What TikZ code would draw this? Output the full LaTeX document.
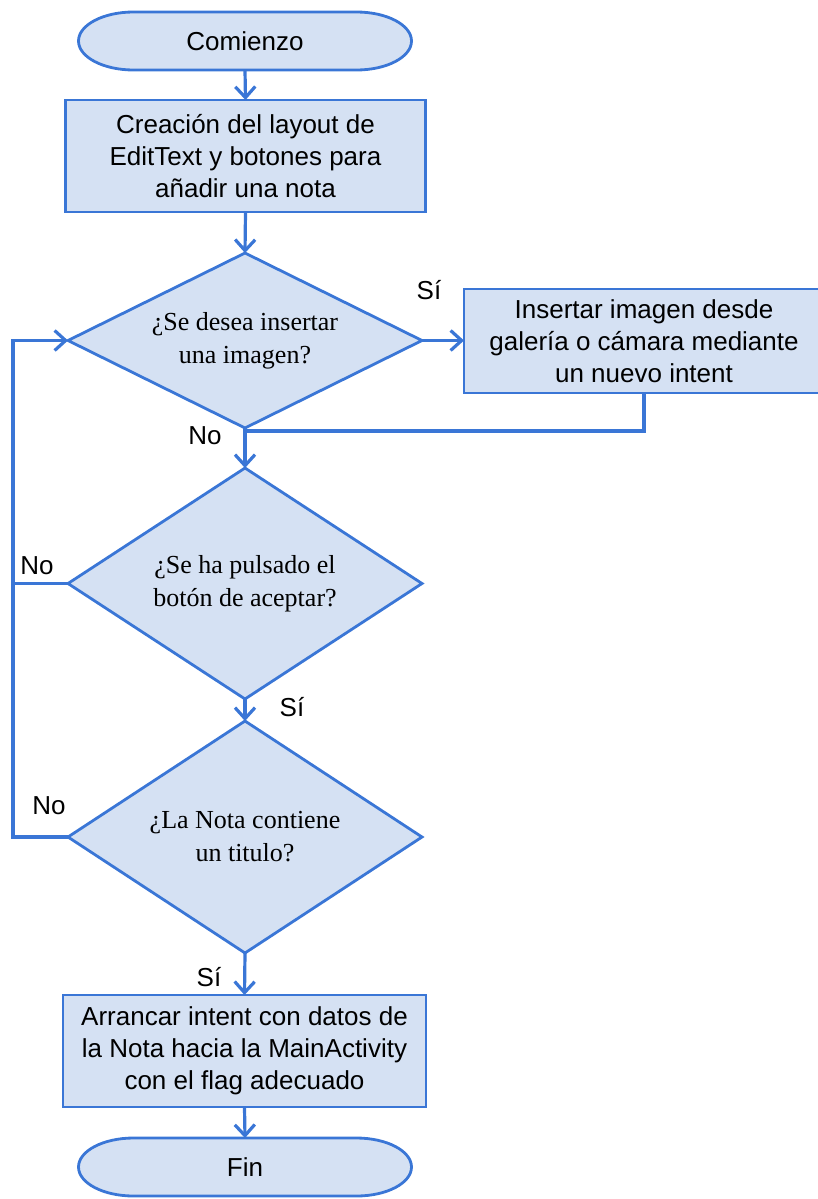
\documentclass[tikz,border=0pt]{standalone}
\usepackage{fontspec}
\setmainfont{Liberation Serif}
\newfontfamily\arialfont{Liberation Sans}
\usetikzlibrary{shapes.geometric,arrows.meta,backgrounds}
\definecolor{flowline}{RGB}{58,118,214}
\definecolor{flowfill}{RGB}{213,225,243}
% stadium outline with elliptic ends, drawn behind a named node
\newcommand\drawstadium[1]{%
  \begin{pgfonlayer}{background}
    \path[draw=flowline, fill=flowfill, line width=1.4pt]
      ([xshift=27.5pt]#1.north west) -- ([xshift=-27.5pt]#1.north east)
      arc[start angle=90, end angle=-90, x radius=27.5pt, y radius=14.5pt]
      -- ([xshift=27.5pt]#1.south west)
      arc[start angle=270, end angle=90, x radius=27.5pt, y radius=14.5pt]
      -- cycle;
  \end{pgfonlayer}}
\begin{document}
\begin{tikzpicture}[x=0.5pt, y=0.5pt,
  every node/.style={inner sep=0pt, outer sep=0pt},
  sanstext/.style={font=\arialfont\fontsize{13}{16}\selectfont},
  procbox/.style={sanstext, draw=flowline, fill=flowfill, line width=1.4pt, align=center},
  decision/.style={diamond, aspect=2, draw=flowline, fill=flowfill, line width=1.4pt,
    align=center, font=\fontsize{13}{16.5}\selectfont, minimum width=177pt},
  terminal/.style={sanstext, minimum width=166.5pt, minimum height=29pt},
  flow/.style={draw=flowline, line width=1.6pt, -{Straight Barb[length=5.5pt, width=10pt]}},
  link/.style={draw=flowline, line width=1.6pt},
  lbl/.style={sanstext}
]
\useasboundingbox (0,0) rectangle (818,-1199);

% nodes
\node[terminal] (start) at (245,-41) {Comienzo};
\drawstadium{start}
\node[procbox, minimum width=180pt, minimum height=56pt] (layout) at (245.5,-156)
  {Creación del layout de\\EditText y botones para\\añadir una nota};
\node[decision, minimum height=87.5pt] (img) at (245,-340.5)
  {¿Se desea insertar\\una imagen?};
\node[procbox, minimum width=180pt, minimum height=52pt] (ins) at (644,-341)
  {Insertar imagen desde\\galería o cámara mediante\\un nuevo intent};
\node[decision, minimum height=115.5pt] (ok) at (245,-583.5)
  {¿Se ha pulsado el\\botón de aceptar?};
\node[decision, minimum height=116pt] (tit) at (245,-837)
  {¿La Nota contiene\\un titulo?};
\node[procbox, minimum width=181.5pt, minimum height=56pt] (run) at (244.5,-1051)
  {Arrancar intent con datos de\\la Nota hacia la MainActivity\\con el flag adecuado};
\node[terminal] (fin) at (245,-1167) {Fin};
\drawstadium{fin}

% helper points
\coordinate (merge) at (245,-431);
\coordinate (loopx) at (13,0);

% connectors
\draw[flow] (start.south) -- (layout.north);
\draw[flow] (layout.south) -- (img.north);
\draw[flow] (img.east) -- (img.east -| ins.west);
\draw[link] (ins.south) |- (merge);
\draw[flow] (img.south) -- (ok.north);
\draw[flow] (ok.south) -- (tit.north);
\draw[flow] (tit.south) -- (run.north);
\draw[flow] (run.south) -- (fin.north);
\draw[flow] (ok.west) -- (loopx |- ok.west) -- (loopx |- img.west) -- (img.west);
\draw[link] (tit.west) -- (loopx |- tit.west) -- (loopx |- ok.west);

% branch labels
\node[lbl] (siA) at (429,-290) {Sí};
\node[lbl] (noA) at (205,-436) {No};
\node[lbl] (noB) at (37,-566) {No};
\node[lbl] (siB) at (292,-707) {Sí};
\node[lbl] (noC) at (49,-806) {No};
\node[lbl] (siC) at (209,-977) {Sí};
\end{tikzpicture}
\end{document}
